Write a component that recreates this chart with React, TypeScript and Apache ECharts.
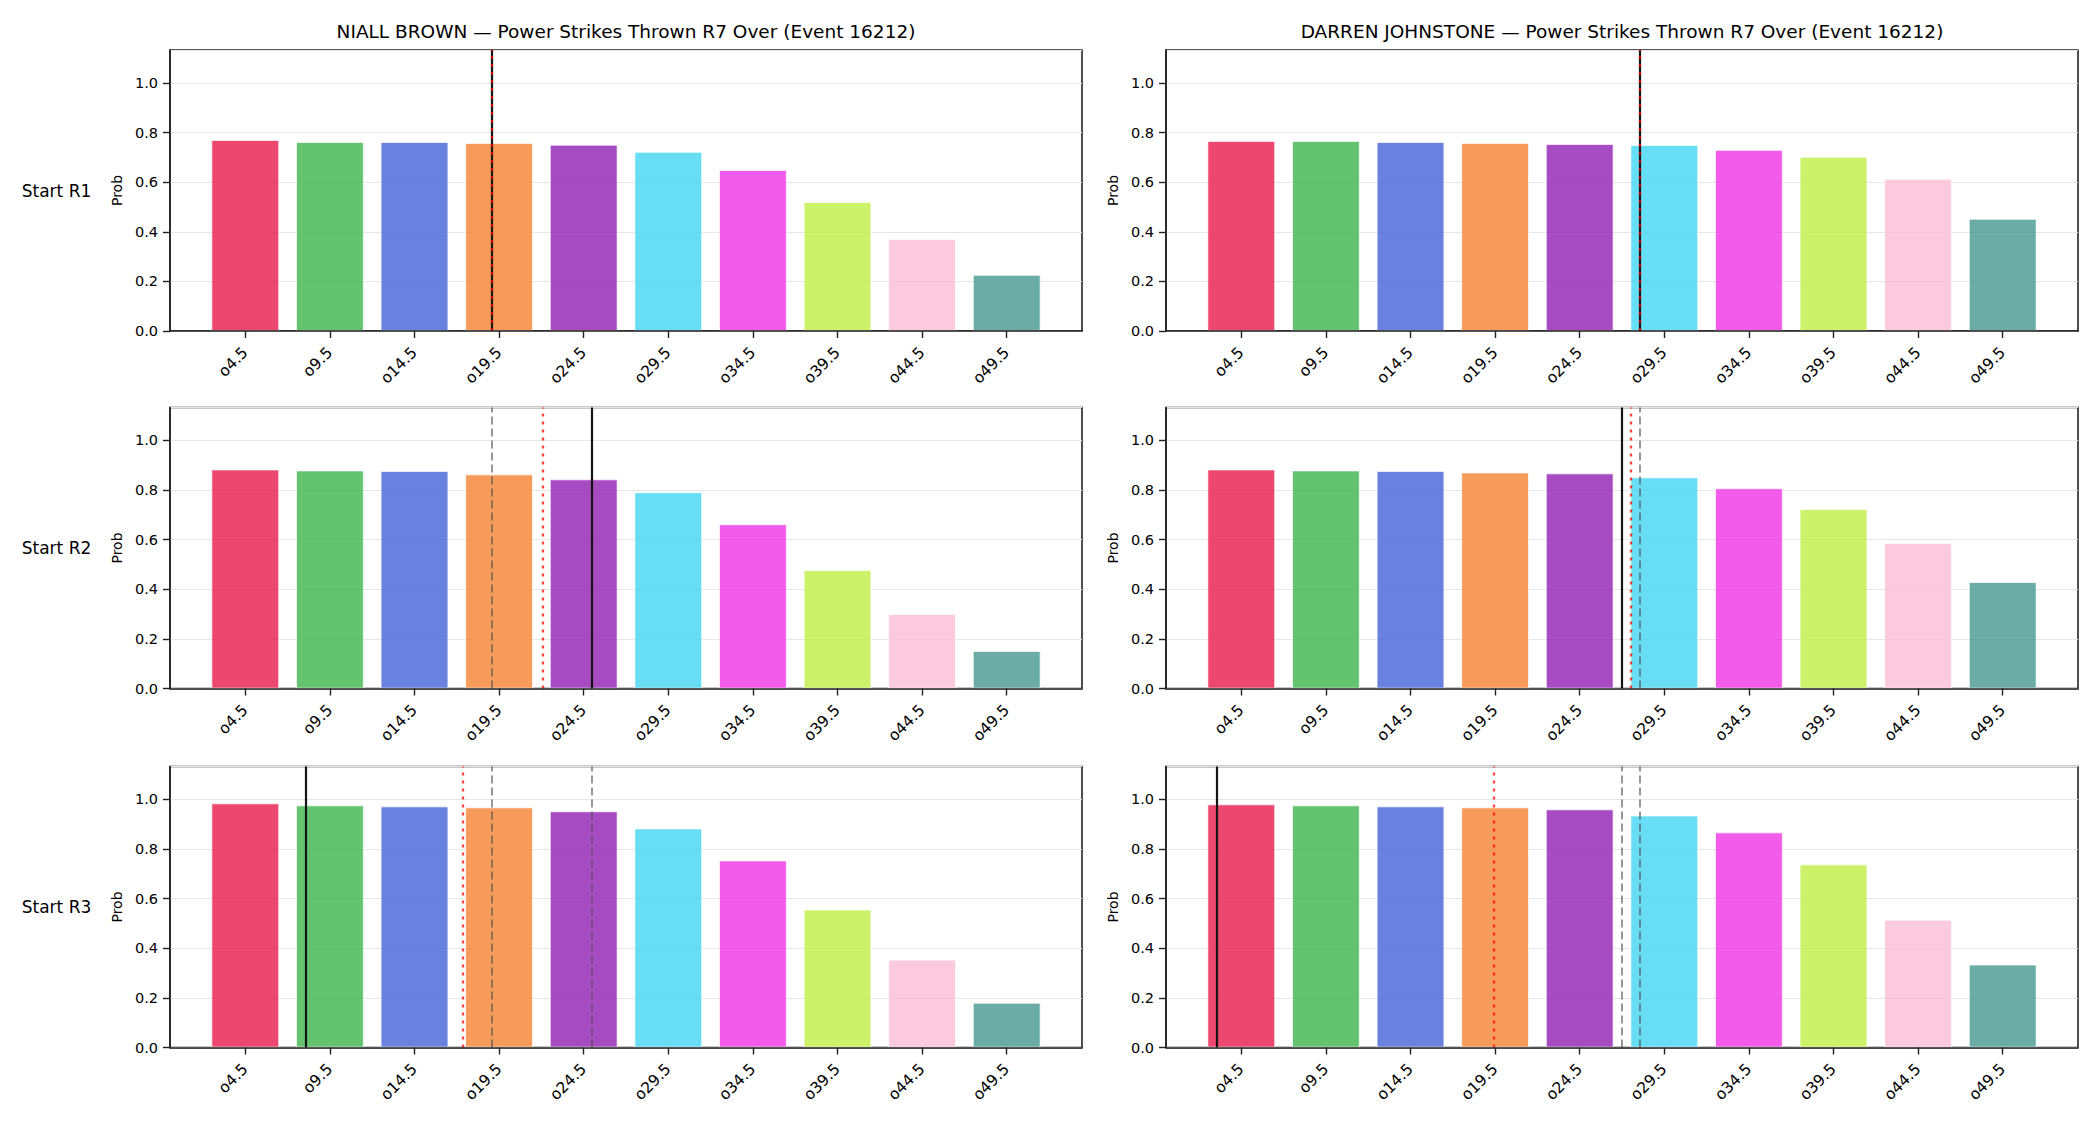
import React, { useEffect, useRef } from "react";
import * as echarts from "echarts";

// ---------- data ----------
const categories = ["o4.5", "o9.5", "o14.5", "o19.5", "o24.5", "o29.5", "o34.5", "o39.5", "o44.5", "o49.5"];
const barColors = [
  "rgba(230,25,75,0.8)",
  "rgba(60,180,75,0.8)",
  "rgba(67,99,216,0.8)",
  "rgba(245,130,49,0.8)",
  "rgba(145,30,180,0.8)",
  "rgba(66,212,244,0.8)",
  "rgba(240,50,230,0.8)",
  "rgba(191,239,69,0.8)",
  "rgba(250,190,212,0.8)",
  "rgba(70,153,144,0.8)",
];
const fighters = ["NIALL BROWN", "DARREN JOHNSTONE"];
const titleSuffix = " — Power Strikes Thrown R7 Over (Event 16212)";
const rowLabels = ["Start R1", "Start R2", "Start R3"];
const yAxisName = "Prob";

const niallR1 = [0.770, 0.762, 0.762, 0.758, 0.751, 0.722, 0.649, 0.520, 0.371, 0.226];
const niallR2 = [0.883, 0.879, 0.877, 0.863, 0.843, 0.791, 0.662, 0.477, 0.300, 0.151];
const niallR3 = [0.984, 0.976, 0.972, 0.968, 0.952, 0.883, 0.754, 0.556, 0.354, 0.180];
const darrenR1 = [0.766, 0.766, 0.762, 0.758, 0.754, 0.750, 0.730, 0.702, 0.613, 0.452];
const darrenR2 = [0.883, 0.879, 0.877, 0.871, 0.867, 0.851, 0.807, 0.723, 0.586, 0.429];
const darrenR3 = [0.980, 0.976, 0.972, 0.968, 0.960, 0.935, 0.867, 0.738, 0.515, 0.334];

// vertical markers, in category-index units (per round)
const niallSolid = [2.91, 4.1, 0.708];
const niallDotted = [2.91, 3.515, 2.574];
const niallDashed = [[], [2.91], [2.91, 4.1]];
const darrenSolid = [4.706, 4.504, -0.287];
const darrenDotted = [4.706, 4.6, 2.977];
const darrenDashed = [[], [4.706], [4.504, 4.706]];

const yMax = 1.133;
const xMin = -0.89;
const xMax = 9.89;

// ---------- layout ----------
const FONT = "DejaVu Sans";
const colLeft = [170, 1166];
const gridWidth = 912;
const rowTop = [50, 407.5, 766.5];
const gridHeight = 281;

const panelValues = [
  [niallR1, darrenR1],
  [niallR2, darrenR2],
  [niallR3, darrenR3],
];
const solidLines = [niallSolid, darrenSolid];
const dottedLines = [niallDotted, darrenDotted];
const dashedLines = [niallDashed, darrenDashed];

function buildOption() {
  const grids: any[] = [];
  const xAxes: any[] = [];
  const yAxes: any[] = [];
  const series: any[] = [];
  const graphics: any[] = [];
  const idx = categories.map((_, i) => i);

  for (let r = 0; r < 3; r++) {
    for (let c = 0; c < 2; c++) {
      const gi = grids.length;
      grids.push({
        left: colLeft[c],
        top: rowTop[r],
        width: gridWidth,
        height: gridHeight,
        show: true,
        borderColor: "#222",
        borderWidth: 1.6,
        backgroundColor: "transparent",
      });
      xAxes.push({
        gridIndex: gi,
        type: "value",
        min: xMin,
        max: xMax,
        z: 5,
        axisLine: { show: true, onZero: false, lineStyle: { color: "#222", width: 1.6 } },
        axisTick: { show: true, customValues: idx, length: 7, lineStyle: { color: "#222", width: 1.4 } },
        axisLabel: {
          show: true,
          customValues: idx,
          formatter: (v: number) => categories[Math.round(v)] ?? "",
          rotate: 45,
          fontSize: 15.5,
          fontFamily: FONT,
          color: "#000",
          margin: 19,
        },
        splitLine: { show: false },
      });
      yAxes.push({
        gridIndex: gi,
        type: "value",
        min: 0,
        max: yMax,
        interval: 0.2,
        name: yAxisName,
        nameLocation: "middle",
        nameGap: 46,
        nameTextStyle: { fontSize: 14, fontFamily: FONT, color: "#000" },
        axisLine: { show: true, onZero: false, lineStyle: { color: "#222", width: 1.6 } },
        axisTick: { show: true, length: 7, lineStyle: { color: "#222", width: 1.4 } },
        axisLabel: {
          formatter: (v: number) => v.toFixed(1),
          fontSize: 14.5,
          fontFamily: FONT,
          color: "#000",
          showMaxLabel: false,
          margin: 12,
        },
        splitLine: { show: true, lineStyle: { color: "#e6e6e6", width: 1 } },
      });

      const vals = panelValues[r][c];
      const lineData: any[] = [];
      dashedLines[c][r].forEach((x) =>
        lineData.push({ xAxis: x, lineStyle: { color: "rgba(80,80,80,0.75)", type: [8, 4], width: 1.6 } })
      );
      lineData.push({ xAxis: solidLines[c][r], lineStyle: { color: "#151515", type: "solid", width: 2.2 } });
      lineData.push({ xAxis: dottedLines[c][r], lineStyle: { color: "rgba(255,0,0,0.72)", type: [3, 5], width: 2.3 } });

      series.push({
        type: "bar",
        xAxisIndex: gi,
        yAxisIndex: gi,
        barWidth: "80%",
        data: vals.map((v, i) => ({
          value: [i, v],
          itemStyle: { color: barColors[i], borderColor: "rgba(255,255,255,0.9)", borderWidth: 0.8 },
        })),
        markLine: {
          silent: true,
          symbol: ["none", "none"],
          label: { show: false },
          emphasis: { disabled: true },
          data: lineData,
        },
      });
    }
  }

  for (let c = 0; c < 2; c++) {
    graphics.push({
      type: "text",
      x: colLeft[c] + gridWidth / 2,
      y: 31,
      style: {
        text: fighters[c] + titleSuffix,
        textAlign: "center",
        textVerticalAlign: "middle",
        fontSize: 18.5,
        fontFamily: FONT,
        fill: "#000",
      },
    });
  }
  for (let r = 0; r < 3; r++) {
    graphics.push({
      type: "text",
      x: 56.5,
      y: rowTop[r] + gridHeight / 2,
      style: {
        text: rowLabels[r],
        textAlign: "center",
        textVerticalAlign: "middle",
        fontSize: 17,
        fontFamily: FONT,
        fill: "#000",
      },
    });
  }

  return {
    animation: false,
    backgroundColor: "#ffffff",
    textStyle: { fontFamily: FONT },
    grid: grids,
    xAxis: xAxes,
    yAxis: yAxes,
    series,
    graphic: graphics,
  };
}

export default function App() {
  const ref = useRef<HTMLDivElement>(null);
  useEffect(() => {
    document.body.style.margin = "0";
    if (!ref.current) return;
    const chart = echarts.init(ref.current, undefined, { renderer: "svg" });
    chart.setOption(buildOption() as any);
    return () => chart.dispose();
  }, []);
  return <div ref={ref} style={{ width: 2100, height: 1125 }} />;
}
